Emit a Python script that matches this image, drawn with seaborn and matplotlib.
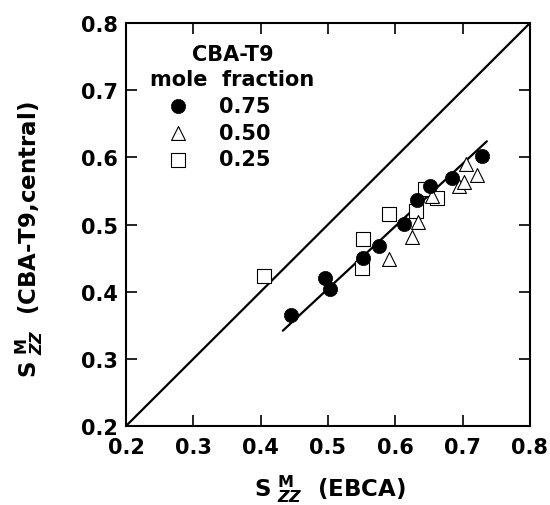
import matplotlib

matplotlib.use("Agg")
import matplotlib.pyplot as plt
import seaborn as sns

sns.set_theme(style="ticks")
plt.rcParams["font.family"] = ["DejaVu Sans"]
plt.rcParams["font.weight"] = "bold"
plt.rcParams["mathtext.fontset"] = "custom"
plt.rcParams["mathtext.rm"] = "DejaVu Sans:bold"
plt.rcParams["mathtext.it"] = "DejaVu Sans:bold:italic"
plt.rcParams["mathtext.bf"] = "DejaVu Sans:bold"
for key in ["text.color", "axes.labelcolor", "xtick.color", "ytick.color"]:
    plt.rcParams[key] = "black"

# CBA-T9 mole fraction 0.75 (filled circles)
x75 = [0.445, 0.496, 0.503, 0.552, 0.576, 0.613, 0.632, 0.651, 0.684, 0.729]
y75 = [0.366, 0.421, 0.404, 0.450, 0.468, 0.501, 0.537, 0.558, 0.569, 0.602]
# 0.50 (open triangles)
x50 = [0.590, 0.625, 0.634, 0.655, 0.695, 0.702, 0.705, 0.722]
y50 = [0.449, 0.481, 0.504, 0.543, 0.557, 0.563, 0.590, 0.574]
# 0.25 (open squares)
x25 = [0.405, 0.550, 0.552, 0.591, 0.631, 0.644, 0.662]
y25 = [0.424, 0.436, 0.479, 0.516, 0.520, 0.553, 0.539]

fit_x = [0.433, 0.736]
fit_y = [0.342, 0.624]
diag = [0.2, 0.8]
ticks = [0.2, 0.3, 0.4, 0.5, 0.6, 0.7, 0.8]

fig = plt.figure(figsize=(5.5, 5.06), dpi=100)
ax = fig.add_axes([0.229, 0.156, 0.7345, 0.7964])

sns.lineplot(x=diag, y=diag, color="black", lw=1.6, ax=ax)
sns.lineplot(x=fit_x, y=fit_y, color="black", lw=1.6, ax=ax)

sns.scatterplot(x=x25, y=y25, marker="s", s=110, color="white",
                edgecolor="black", linewidth=0.8, label="0.25", ax=ax, zorder=3)
sns.scatterplot(x=x50, y=y50, marker="^", s=100, color="white",
                edgecolor="black", linewidth=0.8, label="0.50", ax=ax, zorder=4)
sns.scatterplot(x=x75, y=y75, marker="o", s=105, color="black",
                edgecolor="black", linewidth=0.5, label="0.75", ax=ax, zorder=5)

ax.set_xlim(0.2, 0.8)
ax.set_ylim(0.2, 0.8)
ax.set_xticks(ticks)
ax.set_yticks(ticks)
ax.set_xticklabels([f"{t:.1f}" for t in ticks])
ax.set_yticklabels([f"{t:.1f}" for t in ticks])
ax.tick_params(axis="both", direction="in", top=True, right=True,
               length=8, width=1.2, labelsize=15, color="black")
ax.tick_params(axis="x", pad=8)
ax.tick_params(axis="y", pad=6)
for sp in ax.spines.values():
    sp.set_linewidth(1.5)
    sp.set_color("black")

ax.set_xlabel(r"$\mathrm{S}\;{}_{\mathit{ZZ}}^{\mathrm{M}}$  (EBCA)",
              fontsize=16.5, fontweight="bold")
ax.set_ylabel(r"$\mathrm{S}\;{}_{\mathit{ZZ}}^{\mathrm{M}}$  (CBA-T9,central)",
              fontsize=16.5, fontweight="bold")
ax.xaxis.set_label_coords(0.505, -0.115)
ax.yaxis.set_label_coords(-0.20, 0.464)

h, l = ax.get_legend_handles_labels()
order = [2, 1, 0]
leg = ax.legend([h[i] for i in order], [l[i] for i in order],
                title="CBA-T9\nmole  fraction", loc="upper left",
                bbox_to_anchor=(0.06, 0.947), frameon=False,
                prop={"weight": "bold", "size": 15},
                title_fontproperties={"weight": "bold", "size": 15},
                handlelength=2.7, handletextpad=0.6, labelspacing=0.32,
                borderaxespad=0, borderpad=0, alignment="left")
leg.get_title().set_multialignment("center")
leg.get_title().set_linespacing(1.3)

fig.savefig("out.png", dpi=100)
